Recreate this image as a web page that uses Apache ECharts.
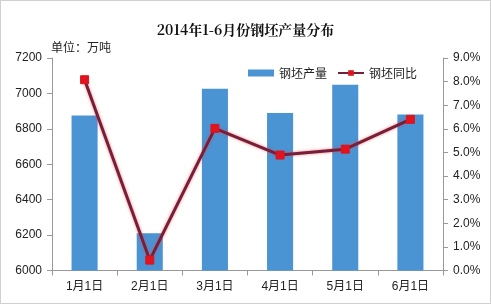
<!DOCTYPE html>
<html><head><meta charset="utf-8">
<script src="https://cdn.jsdelivr.net/npm/echarts@6/dist/echarts.min.js"></script>
<style>html,body{margin:0;padding:0;background:#fff}#c{width:491px;height:304px;box-sizing:border-box;border:1px solid #d0d0d0}</style>
</head><body><div id="c"></div>
<script>
const categories = ['1月1日','2月1日','3月1日','4月1日','5月1日','6月1日'];
const output = [6876, 6210, 7027, 6890, 7049, 6881];
const yoy = [8.08, 0.44, 6.02, 4.89, 5.14, 6.40];
const leftTicks = [6000, 7200, 200];
const rightTicks = [0, 9, 1];

const chart = echarts.init(document.getElementById('c'), null, {renderer:'canvas'});
const font = '"Liberation Sans","DejaVu Sans","Noto Sans CJK SC",sans-serif';
chart.setOption({
  animation:false,
  title:{text:'2014年1-6月份钢坯产量分布', left:'center', top:17,
    textStyle:{fontFamily:'"Noto Serif CJK SC","Noto Sans CJK SC",serif', fontWeight:'bold', fontSize:14, color:'#111'}},
  graphic:[{type:'text', left:50, top:40, style:{text:'单位：万吨', fontSize:12, fill:'#222', fontFamily:'"Noto Sans CJK SC",sans-serif'}}],
  legend:{top:61, left:242, itemGap:10, itemWidth:26, itemHeight:7,
    textStyle:{fontSize:12, color:'#222', fontFamily:'"Noto Sans CJK SC",sans-serif'},
    data:[{name:'钢坯产量', icon:'rect'},{name:'钢坯同比'}]},
  grid:{left:51, right:47, top:57, bottom:32.5},
  xAxis:{type:'category', data:categories,
    axisLine:{lineStyle:{color:'#999'}}, axisTick:{show:true, length:5, lineStyle:{color:'#999'}},
    axisLabel:{fontSize:12, color:'#222', margin:10, fontFamily:font}},
  yAxis:[
    {type:'value', min:leftTicks[0], max:leftTicks[1], interval:leftTicks[2],
     axisLine:{show:true, lineStyle:{color:'#999'}}, axisTick:{show:true, length:5, lineStyle:{color:'#999'}},
     splitLine:{show:false}, axisLabel:{fontSize:12, color:'#222', margin:10, fontFamily:font,
       formatter:v=>String(v)}},
    {type:'value', min:rightTicks[0], max:rightTicks[1], interval:rightTicks[2],
     axisLine:{show:true, lineStyle:{color:'#999'}}, axisTick:{show:true, length:5, lineStyle:{color:'#999'}},
     splitLine:{show:false}, axisLabel:{fontSize:12, color:'#222', margin:10, fontFamily:font,
       formatter:v=>v.toFixed(1)+'%'}}
  ],
  series:[
    {name:'钢坯产量', type:'bar', data:output, barWidth:'40%', itemStyle:{color:'#4a94d4'}},
    {name:'钢坯同比', type:'line', yAxisIndex:1, data:yoy, symbol:'rect', symbolSize:8,
     lineStyle:{color:'#74203a', width:3, shadowColor:'rgba(255,60,60,0.7)', shadowBlur:3},
     itemStyle:{color:'#e0141e', borderColor:'#e0141e'}}
  ]
});
</script></body></html>
